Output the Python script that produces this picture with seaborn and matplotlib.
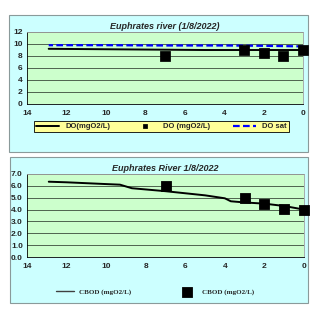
import matplotlib
matplotlib.use("Agg")
import matplotlib.pyplot as plt
import seaborn as sns
import pandas as pd
from matplotlib.patches import Rectangle
from matplotlib.lines import Line2D
from matplotlib.ticker import MultipleLocator, FormatStrFormatter

# DO chart data
do_model_x = [12.9, 11, 9, 7, 5, 3, 2, 1, 0]
do_model_y = [9.2, 9.15, 9.1, 9.05, 9.0, 9.0, 9.0, 9.0, 9.0]
do_sat_x = [12.9, 10, 7, 4, 2, 1, 0]
do_sat_y = [9.8, 9.8, 9.75, 9.75, 9.7, 9.65, 9.6]
do_obs_x = [7, 3, 2, 1, 0]
do_obs_y = [8.0, 9.0, 8.5, 8.0, 9.0]

# CBOD chart data
cbod_model_x = [12.9, 12, 10, 9.3, 8.7, 7, 5, 4, 3.7, 3, 2, 1, 0]
cbod_model_y = [6.35, 6.3, 6.15, 6.1, 5.8, 5.55, 5.2, 4.95, 4.7, 4.6, 4.5, 4.3, 4.0]
cbod_obs_x = [7, 3, 2, 1, 0]
cbod_obs_y = [6.0, 4.95, 4.5, 4.05, 4.0]

sns.set_style("white")
plt.rcParams['font.family'] = ['Liberation Sans', 'DejaVu Sans']
plt.rcParams['font.weight'] = 'bold'

W, H = 318, 312
fig = plt.figure(figsize=(W / 100, H / 100), dpi=100)


def fbox(x0, y0, x1, y1):
    # pixel box (top-left origin) -> figure fraction [l, b, w, h]
    return [x0 / W, 1 - y1 / H, (x1 - x0) / W, (y1 - y0) / H]


def panel(x0, y0, x1, y1):
    l, b, w, h = fbox(x0, y0, x1, y1)
    fig.patches.append(Rectangle((l, b), w, h, transform=fig.transFigure,
                                 facecolor="#ccffff", edgecolor="#8a9a9a", lw=0.8,
                                 zorder=-5))


def style_ax(ax, ymax, ystep, fmt, title):
    ax.set_facecolor("#ccffcc")
    ax.set_xlim(14, 0)
    ax.set_ylim(0, ymax)
    ax.xaxis.set_major_locator(MultipleLocator(2))
    ax.xaxis.set_minor_locator(MultipleLocator(0.5))
    ax.yaxis.set_major_locator(MultipleLocator(ystep))
    ax.yaxis.set_major_formatter(FormatStrFormatter(fmt))
    ax.grid(axis="y", color="#3a4a3a", lw=0.6)
    ax.set_axisbelow(True)
    for s in ["top", "right"]:
        ax.spines[s].set_color("#a0a0a0")
        ax.spines[s].set_linewidth(0.6)
    for s in ["left", "bottom"]:
        ax.spines[s].set_color("black")
        ax.spines[s].set_linewidth(0.6)
    ax.tick_params(axis="x", which="both", direction="in", length=2, width=0.6,
                   labelsize=6, pad=4)
    ax.tick_params(axis="x", which="minor", length=1.5)
    ax.tick_params(axis="y", length=0, labelsize=6, pad=3)
    ax.set_xlabel("")
    ax.set_ylabel("")
    ax.set_title(title, fontsize=6.5, fontweight="bold", style="italic", pad=2)
    for c in ax.collections:
        c.set_clip_on(False)


# top panel
panel(9, 15, 308, 152)
ax1 = fig.add_axes(fbox(27, 32, 303, 104))
sns.lineplot(x=do_model_x, y=do_model_y, ax=ax1, color="black", lw=1.4,
             label="DO(mgO2/L)")
sns.scatterplot(x=do_obs_x, y=do_obs_y, ax=ax1, color="black", marker="s", s=45,
                edgecolor="black", label="DO (mgO2/L)", zorder=4)
sns.lineplot(x=do_sat_x, y=do_sat_y, ax=ax1, color="#0000ff", lw=1.6,
             linestyle=(0, (3, 1.5)), label="DO sat")
style_ax(ax1, 12, 2, "%d", "Euphrates river (1/8/2022)")
h, lab = ax1.get_legend_handles_labels()
ax1.get_legend().remove()
l, b, w, hh = fbox(30, 118, 293, 135)
leg = fig.legend(h, lab, loc="center", bbox_to_anchor=(l, b, w, hh), mode="expand",
                 ncol=3, fontsize=5.5, frameon=True, fancybox=False,
                 facecolor="#ffff99", edgecolor="black", framealpha=1,
                 handlelength=3, borderpad=0.3, markerscale=0.5)
leg.get_frame().set_linewidth(0.6)

# bottom panel
panel(10, 157, 308, 303)
ax2 = fig.add_axes(fbox(27, 174, 304, 257))
sns.lineplot(x=cbod_model_x, y=cbod_model_y, ax=ax2, color="black", lw=1.4,
             label="CBOD (mgO2/L)")
sns.scatterplot(x=cbod_obs_x, y=cbod_obs_y, ax=ax2, color="black", marker="s", s=55,
                edgecolor="black", label="CBOD (mgO2/L)", zorder=4)
style_ax(ax2, 7, 1, "%.1f", "Euphrates River 1/8/2022")
h2, lab2 = ax2.get_legend_handles_labels()
ax2.get_legend().remove()
h2[0] = Line2D([], [], color="#404040", lw=1.0)
l, b, w, hh = fbox(50, 283, 260, 301)
leg2 = fig.legend(h2, lab2, loc="center", bbox_to_anchor=(l, b, w, hh), mode="expand",
                  ncol=2, frameon=False, handlelength=2.5,
                  prop={"family": "Liberation Serif", "size": 5, "weight": "bold"})

fig.savefig("out.png", dpi=100)
